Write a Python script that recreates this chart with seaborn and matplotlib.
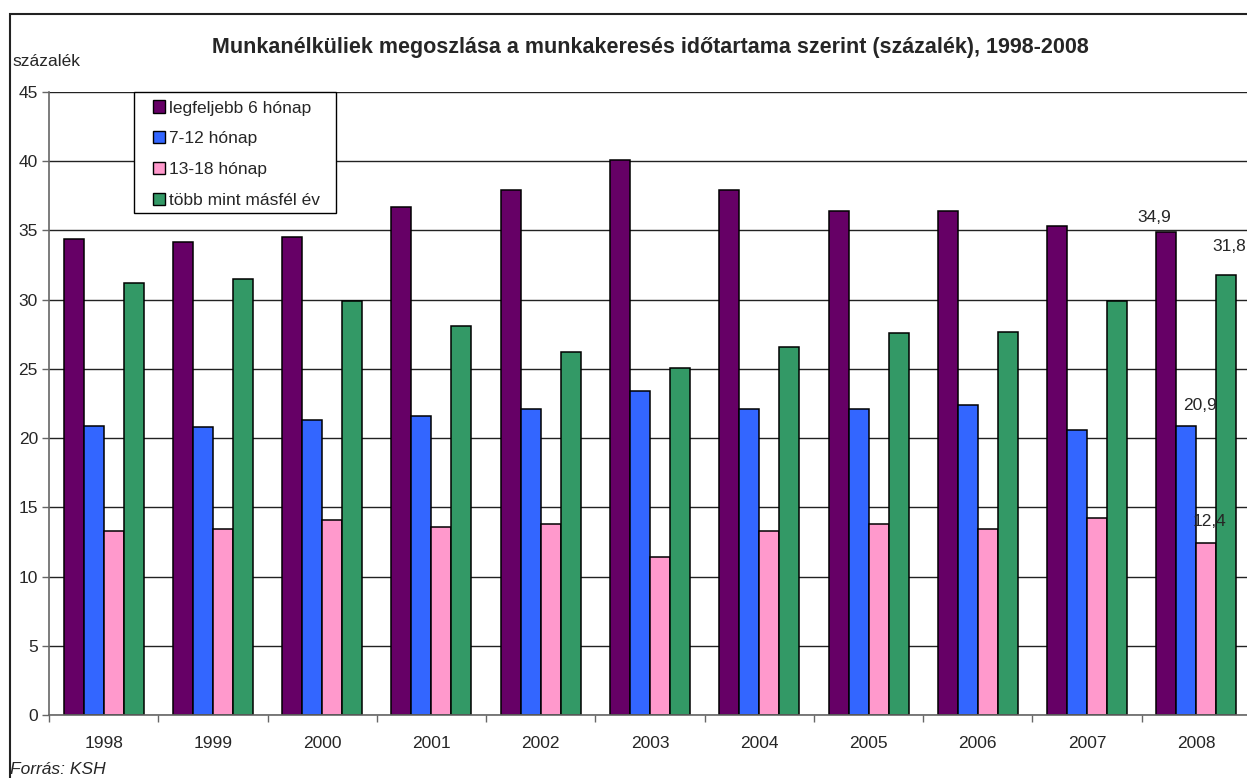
import numpy as np
import pandas as pd
import matplotlib
matplotlib.use("Agg")
import matplotlib.pyplot as plt
import seaborn as sns
from matplotlib.patches import Rectangle, Patch

years = ["1998", "1999", "2000", "2001", "2002", "2003", "2004", "2005", "2006", "2007", "2008"]
series_names = ["legfeljebb 6 hónap", "7-12 hónap", "13-18 hónap", "több mint másfél év"]
upto6 = [34.4, 34.2, 34.5, 36.7, 37.9, 40.1, 37.9, 36.4, 36.4, 35.3, 34.9]
m7_12 = [20.9, 20.8, 21.3, 21.6, 22.1, 23.4, 22.1, 22.1, 22.4, 20.6, 20.9]
m13_18 = [13.3, 13.4, 14.1, 13.6, 13.8, 11.4, 13.3, 13.8, 13.4, 14.2, 12.4]
over18 = [31.2, 31.5, 29.9, 28.1, 26.2, 25.1, 26.6, 27.6, 27.7, 29.9, 31.8]
colors = ["#660066", "#3366FF", "#FF99CC", "#339966"]

title = "Munkanélküliek megoszlása a munkakeresés időtartama szerint (százalék), 1998-2008"

sns.set_theme(style="white")
plt.rcParams["font.family"] = ["Liberation Sans", "DejaVu Sans"]

FS = 12.5

rows = []
for name, vals in zip(series_names, [upto6, m7_12, m13_18, over18]):
    for y, v in zip(years, vals):
        rows.append({"év": y, "sorozat": name, "érték": v})
df = pd.DataFrame(rows)

W, H = 1247, 778
AX_L, AX_R, AX_T, AX_B = 49, 1251, 92, 715
fig = plt.figure(figsize=(W / 100, H / 100), dpi=100)
ax = fig.add_axes([AX_L / W, (H - AX_B) / H, (AX_R - AX_L) / W, (AX_B - AX_T) / H])

sns.barplot(data=df, x="év", y="érték", hue="sorozat", hue_order=series_names,
            palette=dict(zip(series_names, colors)), width=0.732,
            edgecolor="black", linewidth=1.1, saturation=1, ax=ax, legend=False)

ax.set_xlim(-0.5, len(years) - 0.5)
ax.set_ylim(0, 45)
ax.set_yticks(np.arange(0, 46, 5))
ax.set_yticklabels([str(v) for v in range(0, 46, 5)], fontsize=FS)
ax.set_xlabel("")
ax.set_ylabel("")
ax.grid(axis="y", color="#222222", linewidth=1)
ax.set_axisbelow(True)
for s in ["top", "right"]:
    ax.spines[s].set_visible(False)
for s in ["left", "bottom"]:
    ax.spines[s].set_color("#666666")
    ax.spines[s].set_linewidth(1.2)

ax.set_xticks(range(len(years)))
ax.set_xticklabels(years, fontsize=FS)
ax.set_xticks(np.arange(-0.5, len(years), 1), minor=True)
ax.tick_params(axis="x", which="major", length=0, pad=15)
ax.tick_params(axis="x", which="minor", length=5, width=1, color="#666666", direction="out", bottom=True)
ax.tick_params(axis="y", length=5, width=1, color="#666666", direction="out", left=True, pad=3)

# data labels for 2008
i = len(years) - 1
ax.text(i - 0.39, upto6[i] + 0.5, f"{upto6[i]:.1f}".replace(".", ","), fontsize=FS, ha="center", va="bottom")
ax.text(i + 0.03, m7_12[i] + 0.9, f"{m7_12[i]:.1f}".replace(".", ","), fontsize=FS, ha="center", va="bottom")
ax.text(i + 0.12, m13_18[i] + 1.0, f"{m13_18[i]:.1f}".replace(".", ","), fontsize=FS, ha="center", va="bottom")
ax.text(i + 0.30, over18[i] + 1.5, f"{over18[i]:.1f}".replace(".", ","), fontsize=FS, ha="center", va="bottom")

# legend
axw, axh = AX_R - AX_L, AX_B - AX_T
frame = Rectangle(((134 - AX_L) / axw, (AX_B - 213) / axh), 202 / axw, 121 / axh,
                  transform=ax.transAxes, facecolor="white", edgecolor="black",
                  linewidth=1, zorder=4, clip_on=False)
ax.add_patch(frame)
handles = [Patch(facecolor=c, edgecolor="black", linewidth=1) for c in colors]
leg = ax.legend(handles, series_names, loc="upper left",
                bbox_to_anchor=((153 - AX_L) / axw, (AX_B - 100.5) / axh),
                borderaxespad=0, borderpad=0, frameon=False, fontsize=FS,
                handlelength=0.69, handleheight=0.69, handletextpad=0.23,
                labelspacing=0.91)
leg.set_zorder(6)

fig.text(650 / W, 1 - 47 / H, title, fontsize=15.5, fontweight="bold", ha="center", va="center")
fig.text(12 / W, 1 - 62 / H, "százalék", fontsize=FS, ha="left", va="center")
fig.text(10 / W, 1 - 762 / H, "Forrás: KSH", fontsize=FS, style="italic", ha="left", va="top")

fig.add_artist(Rectangle((10 / W, -0.05), 1.2, 1.05 - 14 / H, transform=fig.transFigure,
                         fill=False, edgecolor="#222222", linewidth=1.5))

fig.savefig("out.png", dpi=100)
